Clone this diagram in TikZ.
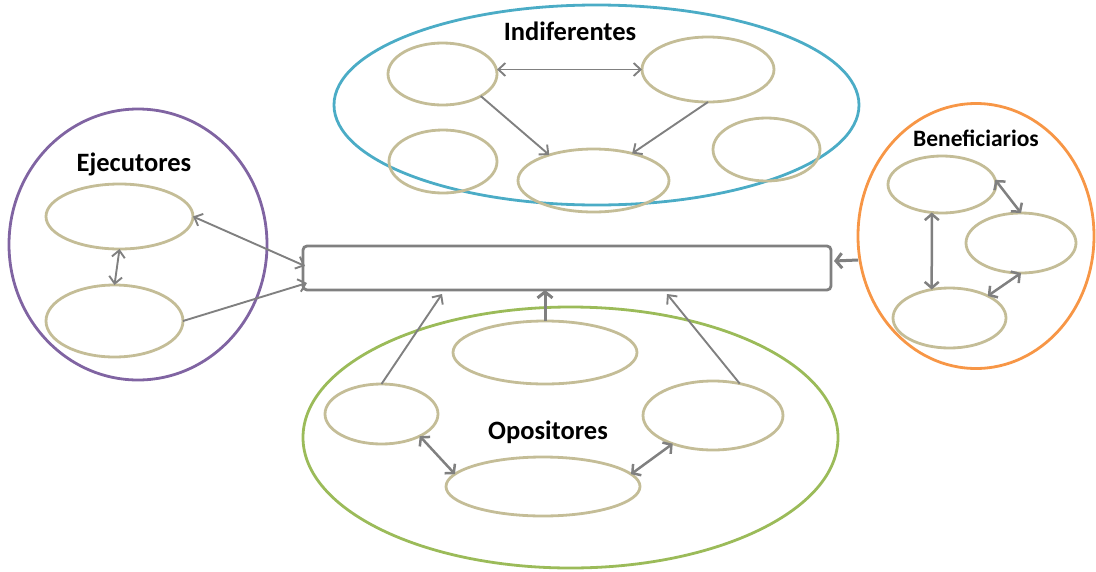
\documentclass[tikz,border=0pt]{standalone}
\usepackage{fontspec}
\setmainfont{Carlito}
\usetikzlibrary{shapes.geometric,arrows.meta,calc}
\definecolor{purp}{HTML}{8064A2}
\definecolor{blu}{HTML}{4BACC6}
\definecolor{orng}{HTML}{F79646}
\definecolor{grn}{HTML}{9BBB59}
\definecolor{tanc}{HTML}{C4BD97}
\definecolor{gry}{HTML}{808080}
\begin{document}
\begin{tikzpicture}[x=1pt,y=-1pt,
  grp/.style={ellipse,draw,line width=2.8pt,inner sep=0pt,outer sep=0pt},
  sub/.style={ellipse,draw=tanc,line width=2.8pt,inner sep=0pt,outer sep=0pt},
  lab/.style={font=\bfseries\fontsize{26.5}{30}\selectfont},
  slab/.style={font=\bfseries\fontsize{23.5}{26}\selectfont},
  con/.style={draw=gry,line width=1.9pt,-{Straight Barb[length=7pt,width=13pt]}},
  bicon/.style={draw=gry,line width=1.9pt,{Straight Barb[length=7pt,width=13pt]}-{Straight Barb[length=7pt,width=13pt]}},
  thickcon/.style={draw=gry,line width=3pt,-{Straight Barb[length=6pt,width=15pt]}},
  bicont/.style={draw=gry,line width=2.5pt,{Straight Barb[length=6pt,width=14pt]}-{Straight Barb[length=6pt,width=14pt]}}
]
\useasboundingbox (0,0) rectangle (1096,571);

% group ellipses
\node[grp,draw=purp,minimum width=258,minimum height=271] (ej) at (138,244.5) {};
\node[grp,draw=blu,minimum width=525,minimum height=200] (ind) at (596.5,105) {};
\node[grp,draw=orng,minimum width=236,minimum height=265] (ben) at (976,236) {};
\node[grp,draw=grn,minimum width=535,minimum height=261] (opo) at (570.5,437.5) {};

% labels
\node[lab] (ejl) at (134,164) {Ejecutores};
\node[lab] (indl) at (570,31) {Indiferentes};
\node[slab] (benl) at (976,138) {Beneficiarios};
\node[lab] (opol) at (548,432) {Opositores};

% central box
\node[draw=gry,line width=2.8pt,rounded corners=4pt,minimum width=528,minimum height=44,inner sep=0pt,outer sep=0pt] (box) at (567,268) {};

% Ejecutores
\node[sub,minimum width=147,minimum height=65] (E1) at (119.5,216.5) {};
\node[sub,minimum width=137,minimum height=72] (E2) at (114.5,321) {};

% Indiferentes
\node[sub,minimum width=109,minimum height=62] (I1) at (442.5,74) {};
\node[sub,minimum width=132,minimum height=65] (I2) at (708,69.5) {};
\node[sub,minimum width=108,minimum height=63] (I3) at (443,161.5) {};
\node[sub,minimum width=151,minimum height=63] (I4) at (593.5,180.5) {};
\node[sub,minimum width=107,minimum height=63] (I5) at (766.5,149.5) {};

% Beneficiarios
\node[sub,minimum width=108,minimum height=57] (B1) at (942,184.5) {};
\node[sub,minimum width=110,minimum height=60] (B2) at (1021,243) {};
\node[sub,minimum width=113,minimum height=60] (B3) at (949.5,318) {};

% Opositores
\node[sub,minimum width=184,minimum height=63] (O1) at (545,352.5) {};
\node[sub,minimum width=113,minimum height=60] (O2) at (381.5,414) {};
\node[sub,minimum width=140,minimum height=69] (O3) at (713,415.5) {};
\node[sub,minimum width=194,minimum height=59] (O4) at (543,486.5) {};

% connectors: Ejecutores
\draw[bicon] (E1.east) -- ($(box.west)+(2,-2)$);
\draw[bicon] (E1.south) -- (E2.north);
\draw[con] (E2.east) -- ($(box.south west)+(4,-7)$);

% connectors: Indiferentes
\draw[bicon] (I1.east |- I2.west) -- (I2.west);
\draw[con] (I1.-30) -- (I4.150);
\draw[con] (I2.south) -- (I4.35);

% connectors: Beneficiarios
\draw[bicont] (B1.-110) -- (B3.122);
\draw[bicont] (B1.5) -- (B2.north);
\draw[bicont] (B2.south) -- (B3.30);
\draw[thickcon] ($(ben.west)+(0,24)$) -- ($(box.east)+(3,-7)$);

% connectors: Opositores
\draw[thickcon] (O1.north) -- (O1.north |- box.south);
\draw[con] (O2.north) -- ($(box.south west)+(139,4)$);
\draw[con] (O3.50) -- ($(box.south west)+(364,4)$);
\draw[bicont] (O2.-30) -- (O4.172);
\draw[bicont] (O3.-145) -- (O4.8);
\end{tikzpicture}
\end{document}
